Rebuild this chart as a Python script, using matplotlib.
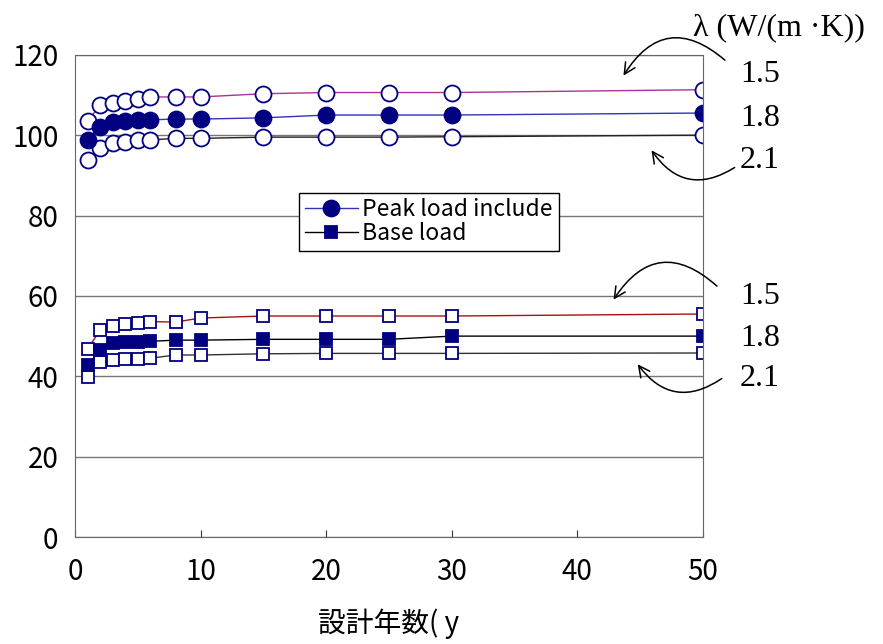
import matplotlib
matplotlib.use("Agg")
import matplotlib.pyplot as plt

plt.rcParams['font.family'] = ['Noto Sans CJK JP', 'DejaVu Sans']

# design years
years = [1, 2, 3, 4, 5, 6, 8, 10, 15, 20, 25, 30, 50]

# peak load include, lambda = 1.5 / 1.8 / 2.1
peak_15 = [103.5, 107.5, 108, 108.5, 109, 109.5, 109.5, 109.5, 110.3, 110.6, 110.6, 110.6, 111.3]
peak_18 = [98.8, 102, 103.2, 103.6, 103.7, 103.8, 104, 104, 104.3, 105, 105, 105, 105.5]
peak_21 = [93.8, 96.8, 98, 98.3, 98.7, 98.8, 99.2, 99.2, 99.5, 99.5, 99.5, 99.6, 100]

# base load, lambda = 1.5 / 1.8 / 2.1
base_15 = [46.8, 51.5, 52.5, 53, 53.2, 53.6, 53.5, 54.5, 55, 55, 55, 55, 55.5]
base_18 = [42.8, 46.5, 48.2, 48.6, 48.6, 48.7, 49, 49, 49.2, 49.2, 49.2, 50, 50]
base_21 = [39.9, 43.6, 44, 44.4, 44.4, 44.5, 45.3, 45.3, 45.6, 45.7, 45.7, 45.7, 45.8]

lam_labels = ["1.5", "1.8", "2.1"]

navy = "#000080"

fig = plt.figure(figsize=(8.83, 6.44), dpi=100)
ax = fig.add_axes([0.085, 0.166, 0.711, 0.749])

circ = dict(marker="o", markersize=11.5, markeredgecolor=navy, markeredgewidth=1.3)
sq = dict(marker="s", markersize=8.5, markeredgecolor=navy, markeredgewidth=1.3)

ax.plot(years, peak_15, color="#aa3399", lw=1, markerfacecolor="white", **circ)
ax.plot(years, peak_21, color="#222222", lw=1, markerfacecolor="white", **circ)
ax.plot(years, peak_18, color="#3333bb", lw=1, markerfacecolor=navy, **circ,
        label="Peak load include")

ax.plot(years, base_15, color="#aa1111", lw=1, markerfacecolor="white", **sq)
ax.plot(years, base_21, color="#333333", lw=1, markerfacecolor="white", **sq)
ax.plot(years, base_18, color="black", lw=1, markerfacecolor=navy, **sq,
        label="Base load")

ax.set_xlim(0, 50)
ax.set_ylim(0, 120)
ax.set_xticks([0, 10, 20, 30, 40, 50])
ax.set_yticks([0, 20, 40, 60, 80, 100, 120])
ax.yaxis.grid(True, color="#777777", lw=1)
ax.set_axisbelow(True)
for sp in ax.spines.values():
    sp.set_color("#666666")
ax.tick_params(axis="x", direction="in", length=5, labelsize=20, pad=14, color="#333333")
ax.tick_params(axis="y", length=0, labelsize=20, pad=12)
ax.set_xlabel("設計年数( y", fontsize=20, labelpad=16)

leg = ax.legend(loc="upper left", bbox_to_anchor=(0.339, 0.738), fontsize=16.5,
                frameon=True, fancybox=False, edgecolor="black", framealpha=1,
                handlelength=2.3, handletextpad=0.2, borderpad=0.25, labelspacing=0.05)
leg.get_frame().set_linewidth(1)

# lambda annotations on the right
serif = dict(family="Liberation Serif", fontsize=23)
fig.text(693, 644 - 28, "λ (W/(m ·K))", transform=None, va="center", **serif)
upper_y = [75, 118, 160]
lower_y = [296, 338, 378]
for lab, uy, ly in zip(lam_labels, upper_y, lower_y):
    fig.text(740, 644 - uy, lab, transform=None, va="center", **serif)
    fig.text(740, 644 - ly, lab, transform=None, va="center", **serif)

arr = dict(arrowstyle="->", color="black", lw=1.1, mutation_scale=20)
ax.annotate("", xy=(622, 644 - 78), xytext=(727, 644 - 62), xycoords="figure pixels",
            arrowprops=dict(connectionstyle="arc3,rad=0.6", **arr))
ax.annotate("", xy=(650, 644 - 148), xytext=(737, 644 - 166), xycoords="figure pixels",
            arrowprops=dict(connectionstyle="arc3,rad=-0.5", **arr))
ax.annotate("", xy=(612, 644 - 302), xytext=(719, 644 - 288), xycoords="figure pixels",
            arrowprops=dict(connectionstyle="arc3,rad=0.6", **arr))
ax.annotate("", xy=(636, 644 - 362), xytext=(724, 644 - 377), xycoords="figure pixels",
            arrowprops=dict(connectionstyle="arc3,rad=-0.5", **arr))

fig.savefig("out.png", dpi=100)
